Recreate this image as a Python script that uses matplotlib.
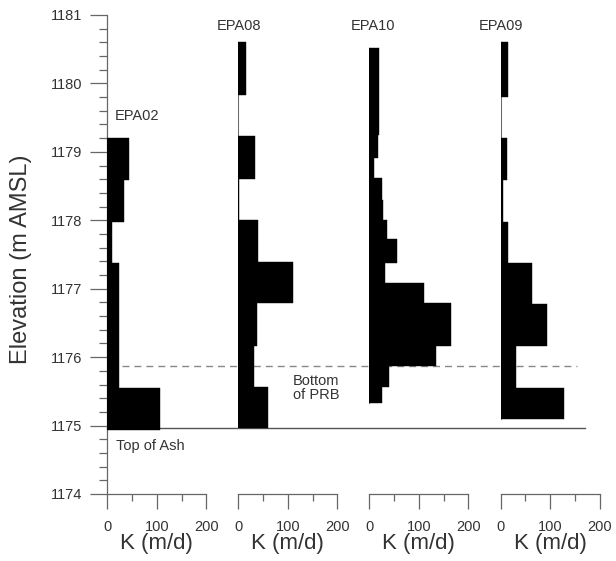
import matplotlib
matplotlib.use('Agg')
import matplotlib.pyplot as plt
from matplotlib.ticker import MultipleLocator

plt.rcParams['font.family'] = ['Liberation Sans', 'DejaVu Sans']

# well profiles: elevation boundaries (top -> bottom) and K (m/d) for each interval
wells = ['EPA02', 'EPA08', 'EPA10', 'EPA09']
epa02_z = [1179.2, 1178.59, 1177.98, 1177.37, 1175.55, 1174.93]
epa02_k = [43, 33, 9, 23, 107]
epa08_z = [1180.61, 1179.83, 1179.23, 1178.60, 1178.00, 1177.39, 1176.79, 1176.17, 1175.57, 1174.97]
epa08_k = [16, 0, 34, 2, 40, 111, 37, 32, 59]
epa10_z = [1180.52, 1179.25, 1178.91, 1178.62, 1178.30, 1178.01, 1177.72, 1177.38,
           1177.08, 1176.79, 1176.17, 1175.87, 1175.56, 1175.33]
epa10_k = [20, 17, 9, 25, 28, 35, 55, 32, 111, 166, 135, 40, 25]
epa09_z = [1180.60, 1179.80, 1179.20, 1178.59, 1177.98, 1177.37, 1176.77, 1176.16, 1175.55, 1175.09]
epa09_k = [15, 0, 13, 5, 15, 63, 93, 31, 128]

top_of_ash = 1174.97
bottom_prb = 1175.87

profiles = [(epa02_z, epa02_k), (epa08_z, epa08_k), (epa10_z, epa10_k), (epa09_z, epa09_k)]
# label positions (x in K units of each panel, y elevation)
label_pos = [(16, 1179.53, 'left'), (2, 1180.84, 'center'), (8, 1180.84, 'center'), (0, 1180.84, 'center')]

grey = '#666666'
txt = '#333333'

fig = plt.figure(figsize=(6.16, 5.61), dpi=100)
lefts = [107.3, 238.3, 369.3, 500.7]
W, H = 616.0, 561.0

axes = []
for i, (z, k) in enumerate(profiles):
    ax = fig.add_axes([lefts[i] / W, 1 - 494 / H, 99 / W, 479 / H])
    ax.patch.set_visible(False)
    ax.set_xlim(0, 200)
    ax.set_ylim(1174, 1181)
    ax.plot([0, 0], [z[-1], z[0]], color='#888888', lw=0.8, zorder=2)
    bottoms = z[1:]
    heights = [a - b for a, b in zip(z[:-1], z[1:])]
    ax.barh(bottoms, k, height=heights, align='edge', color='black',
            edgecolor='black', linewidth=0.3, zorder=3)
    for s in ['top', 'right']:
        ax.spines[s].set_visible(False)
    ax.spines['bottom'].set_color(grey)
    ax.spines['left'].set_color(grey)
    ax.spines['bottom'].set_linewidth(0.9)
    ax.spines['left'].set_linewidth(0.9)
    ax.xaxis.set_major_locator(MultipleLocator(100))
    ax.xaxis.set_minor_locator(MultipleLocator(50))
    ax.tick_params(axis='x', which='major', length=11, width=0.9, color=grey,
                   labelsize=10.5, labelcolor=txt, pad=8)
    ax.tick_params(axis='x', which='minor', length=5, width=0.9, color=grey)
    ax.set_xlabel('K (m/d)', fontsize=16, color=txt, labelpad=-1)
    if i == 0:
        ax.yaxis.set_major_locator(MultipleLocator(1))
        ax.yaxis.set_minor_locator(MultipleLocator(0.2))
        ax.tick_params(axis='y', which='major', length=12, width=0.9, color=grey,
                       labelsize=10.5, labelcolor=txt, pad=6)
        ax.tick_params(axis='y', which='minor', length=5.8, width=0.9, color=grey)
        ax.set_ylabel('Elevation (m AMSL)', fontsize=17, color=txt)
        ax.yaxis.set_label_coords(-0.76, 0.49)
    else:
        ax.spines['left'].set_visible(False)
        ax.set_yticks([])
    lx, ly, ha = label_pos[i]
    ax.text(lx, ly, wells[i], fontsize=10.5, color=txt, ha=ha, va='center')
    axes.append(ax)

ax1 = axes[0]
ax1.plot([0, 965], [top_of_ash, top_of_ash], color='#555555', lw=1.0, clip_on=False, zorder=1)
ax1.plot([30, 949], [bottom_prb, bottom_prb], color='#888888', lw=1.0, ls=(0, (5, 3.6)),
         clip_on=False, zorder=1)
ax1.text(18, 1174.70, 'Top of Ash', fontsize=10.5, color=txt, ha='left', va='center')
axes[1].text(157, 1175.55, 'Bottom\nof PRB', fontsize=10.5, color=txt, ha='center', va='center',
             linespacing=1.0)

fig.savefig('out.png', dpi=100)
